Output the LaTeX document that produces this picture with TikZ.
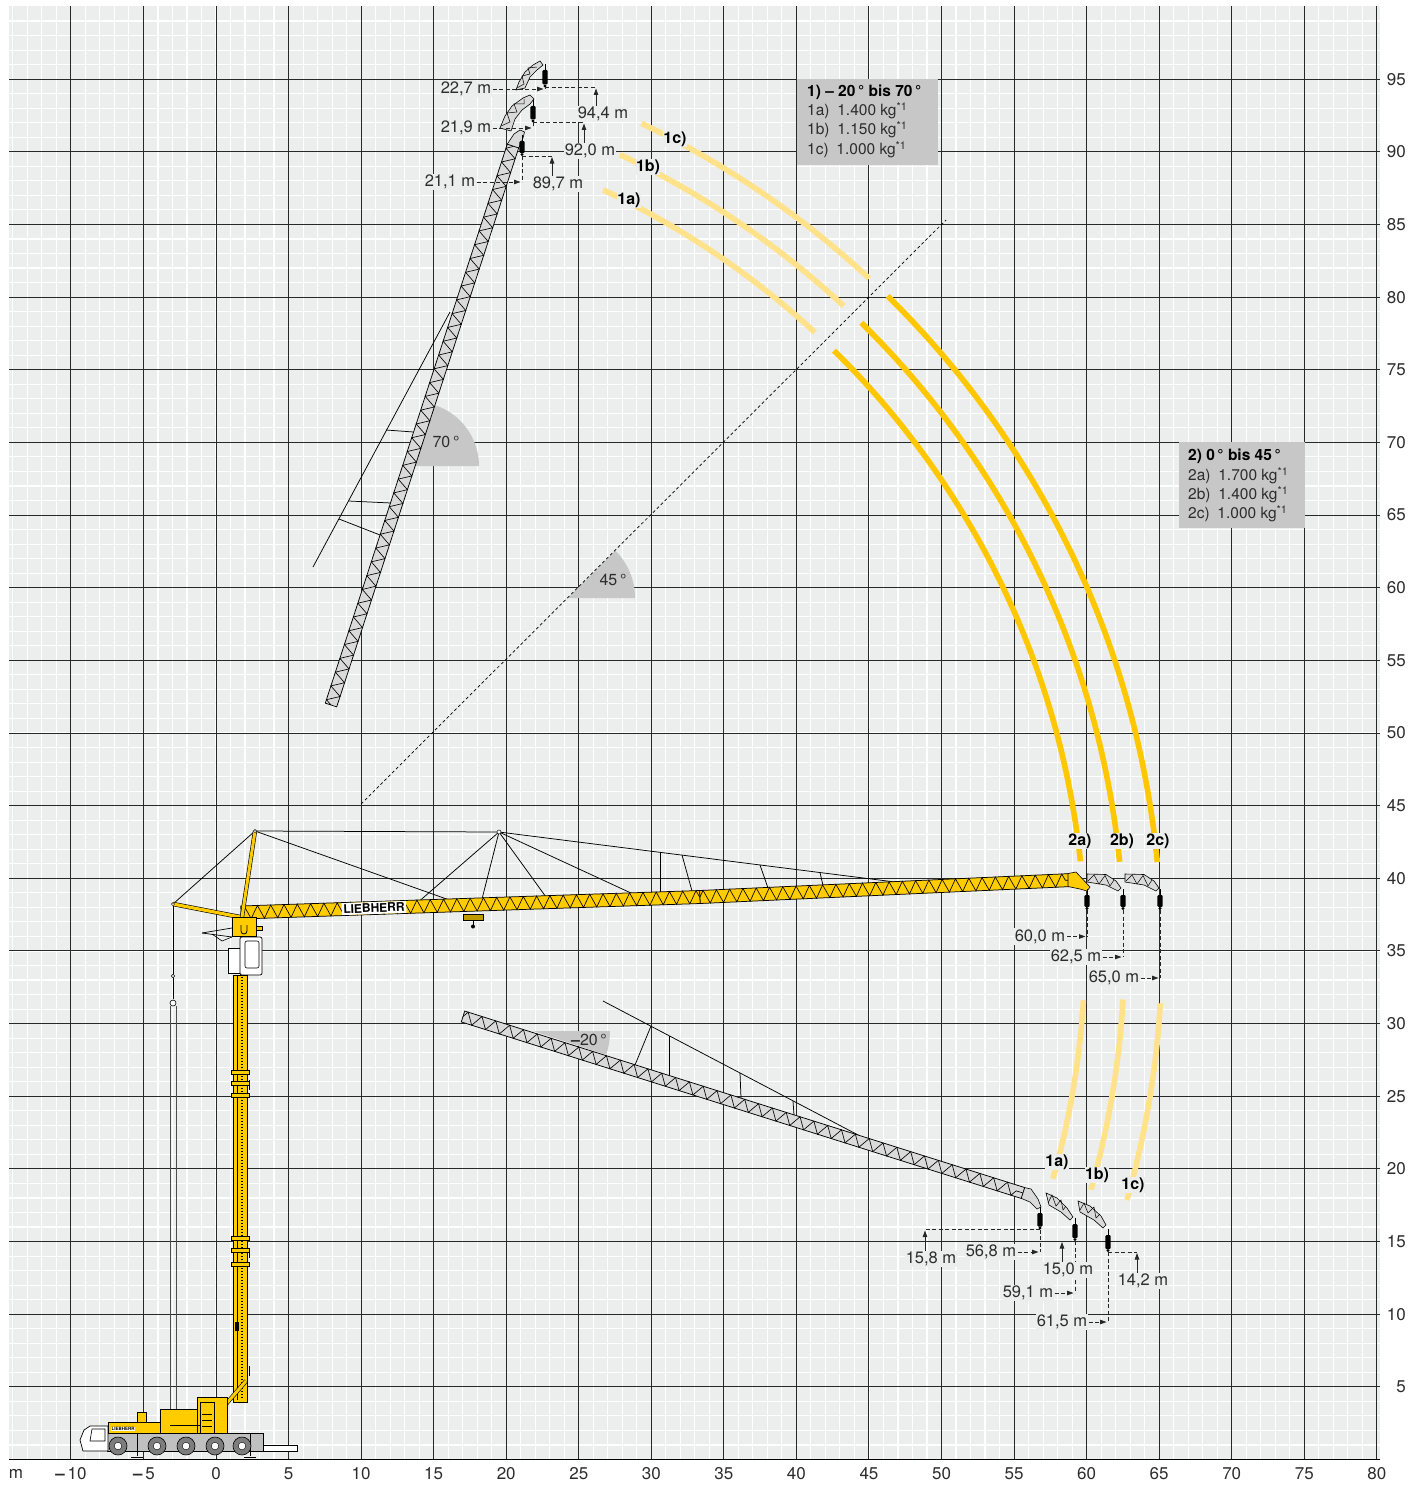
\documentclass[tikz,border=0pt]{standalone}
\usepackage{fontspec}
\setmainfont{TeX Gyre Heros}
\usetikzlibrary{calc,decorations.pathmorphing,arrows.meta}
\definecolor{bgc}{RGB}{236,237,237}
\definecolor{majc}{RGB}{40,40,40}
\definecolor{ysol}{RGB}{255,199,0}
\definecolor{ylight}{RGB}{255,226,138}
\definecolor{jiby}{RGB}{255,204,0}
\definecolor{boomg}{RGB}{218,218,218}
\definecolor{secg}{RGB}{199,199,199}
\definecolor{txt}{RGB}{45,45,45}
\definecolor{wheelg}{RGB}{125,125,125}
\definecolor{chg}{RGB}{192,192,192}
\newcommand\lattice[5]{%
  \filldraw[fill=#4,draw=black,line width=0.75pt]
    ($(#1)!#3!90:(#2)$) -- ($(#2)!#3!-90:(#1)$) -- ($(#2)!#3!90:(#1)$) -- ($(#1)!#3!-90:(#2)$) -- cycle;
  \draw[line width=0.65pt,decorate,decoration={zigzag,segment length=#5,amplitude=#3}] (#1) -- (#2);
}
\newcommand\hk[3]{%
  \draw[line width=0.6pt] (#1,{#2-6}) -- (#1,#2);
  \fill[black,rounded corners=1.2pt] ({#1-2.7},#2) rectangle ({#1+2.7},{#3-3});
  \fill[black] (#1,{#3-1.5}) circle (1.7pt);
}
\begin{document}
\begin{tikzpicture}[x=1pt,y=-1pt,
  dimd/.style={line width=0.8pt,dash pattern=on 4pt off 2.5pt,black!85},
  arr/.style={-{Triangle[length=6.5pt,width=4.5pt]},line width=0.8pt,black!85},
  darr/.style={arr,dash pattern=on 4pt off 2.5pt},
  dlab/.style={font=\fontsize{16.5}{18}\selectfont,text=txt,fill=bgc,inner sep=1.2pt},
  blab/.style={font=\fontsize{16}{18}\selectfont\bfseries,text=black,fill=bgc,inner sep=0.3pt},
  axl/.style={font=\fontsize{17}{19}\selectfont,text=txt,inner sep=1pt},
  leg/.style={font=\fontsize{15.5}{17}\selectfont,text=txt,anchor=west,inner sep=0pt},
  legh/.style={font=\fontsize{15.5}{17}\selectfont\bfseries,text=black,anchor=west,inner sep=0pt},
  angl/.style={font=\fontsize{16}{18}\selectfont,text=txt,inner sep=0pt},
  guy/.style={line width=0.75pt,black},
  yarc/.style={line width=5.6pt,ysol},
  larc/.style={line width=5.6pt,ylight},
  tip/.style={fill=boomg,draw=black,line width=0.6pt},
  ybox/.style={fill=jiby,draw=black,line width=0.6pt}]
\useasboundingbox (0,0) rectangle (1423,1485);
\fill[white] (0,0) rectangle (1423,1485);
% ---------------- grid
\fill[bgc] (9,6) rectangle (1380,1459.5);
\foreach \m in {-14,...,80} \draw[white,line width=1.1pt] ({216+14.51*\m},6) -- ({216+14.51*\m},1459.5);
\foreach \m in {1,...,99} \draw[white,line width=1.1pt] (9,{1459.5-14.53*\m}) -- (1380,{1459.5-14.53*\m});
\foreach \m in {-10,-5,...,80} \draw[majc,line width=0.95pt] ({216+14.51*\m},6) -- ({216+14.51*\m},1459.5);
\foreach \m in {5,10,...,95} \draw[majc,line width=0.95pt] (9,{1459.5-14.53*\m}) -- (1380,{1459.5-14.53*\m});
\draw[black,line width=1.4pt] (9,1459.5) -- (1380,1459.5);
% axis labels
\node[axl] (axm) at (16,1474) {m};
\node[axl] (axm10) at (71,1474) {\textbf{–}\,10};
\node[axl] (axm5) at (144,1474) {\textbf{–}\,5};
\foreach \m in {0,5,...,80} \node[axl] (ax\m) at ({216+14.51*\m},1474) {\m};
\foreach \m in {5,10,...,95} \node[axl,anchor=east] (ay\m) at (1407,{1459.5-14.53*\m}) {\m};
% ---------------- angle sectors
\fill[secg] (415,466) -- +(0:64pt) arc[start angle=0,end angle=72,radius=64pt] -- cycle;
\fill[secg] (568,598) -- +(0:67pt) arc[start angle=0,end angle=45,radius=67pt] -- cycle;
\fill[secg] (533,1031) -- +(0:77pt) arc[start angle=0,end angle=-18,radius=77pt] -- cycle;
\node[angl] (a70) at (446,442) {70\,°};
\node[angl] (a45) at (613,580) {45\,°};
\node[angl] (a20) at (589,1040) {\textbf{–}20\,°};
% 45 degree line
\coordinate (d45a) at (361,804);
\coordinate (d45b) at (946,220);
\draw[line width=0.7pt,dash pattern=on 3pt off 2.5pt] (d45a) -- (d45b);
% ---------------- hook paths
\coordinate (ac) at (246,949);
\foreach \r/\a in {839/6,878/5.7,915.5/5.45}
  \draw[yarc] (ac) ++(\a:\r pt) arc[start angle=\a,end angle=45.5,radius=\r pt];
\foreach \r/\a/\b in {839/47.3/64.8,878/47.1/64.8,915.5/47.1/64.4}
  \draw[larc] (ac) ++(\a:\r pt) arc[start angle=\a,end angle=\b,radius=\r pt];
\foreach \r/\a in {839/-3.5,878.5/-3.3,916/-3.4}
  \draw[larc] (ac) ++(\a:\r pt) arc[start angle=\a,end angle=-15.9,radius=\r pt];
% ---------------- upper luffing jib (70 deg)
\draw[guy] (313,567) -- (450,312);
\draw[guy] (339,519) -- (380,535);
\draw[guy] (348.5,501) -- (391,503);
\draw[guy] (386,430) -- (413.5,432);
\lattice{331,705}{513,146}{6pt}{boomg}{14.5pt}
\filldraw[tip] (507.3,144.1) -- (514,134) -- (520,130) -- (524.5,132) -- (523,138) -- (518.7,147.9) -- cycle;
\filldraw[tip] (500,128) -- (505,116) -- (512,106) -- (523,98) -- (530,95) -- (534,99) -- (530,104) -- (522,110) -- (515,119) -- (511,131) -- cycle;
\draw[line width=0.5pt] (501,126) -- (510,122) -- (507,113) -- (517,112) -- (514,104) -- (524,104) -- (524,99);
\filldraw[tip] (516,90) -- (519,82) -- (525,72) -- (533,65) -- (540,61) -- (543,65) -- (537,70) -- (530,77) -- (525,88) -- cycle;
\draw[line width=0.5pt] (517,88) -- (524,84) -- (522,76) -- (530,74) -- (528,68) -- (537,67);
\hk{522}{141}{156}
\hk{533}{106}{122.5}
\hk{545}{70}{87.5}
\coordinate (h1a) at (522,156);
\coordinate (h1b) at (533,122.5);
\coordinate (h1c) at (545,87.5);
% ---------------- lower luffing jib (-20 deg)
\draw[guy] (603,1001) -- (860,1136);
\draw[guy] (651,1026) -- (635,1065);
\draw[guy] (669,1036) -- (669,1076);
\draw[guy] (740,1073) -- (741,1098);
\draw[guy] (793,1101) -- (794,1115);
\lattice{463,1016.5}{1023,1193}{5.7pt}{boomg}{14.5pt}
\filldraw[tip] (1024.7,1187.6) -- (1031,1189) -- (1038,1199) -- (1041,1207) -- (1037,1209) -- (1030,1202) -- (1021.3,1198.4) -- cycle;
\filldraw[tip] (1046,1193) -- (1057,1198) -- (1067,1208) -- (1073,1217) -- (1070,1220) -- (1061,1212) -- (1049,1205) -- cycle;
\draw[line width=0.5pt] (1048,1203) -- (1052,1195) -- (1056,1206) -- (1061,1200) -- (1063,1210) -- (1066,1206);
\filldraw[tip] (1078,1201) -- (1090,1206) -- (1101,1216) -- (1106,1225) -- (1103,1228) -- (1094,1220) -- (1080,1212) -- cycle;
\draw[line width=0.5pt] (1080,1210) -- (1084,1203) -- (1088,1213) -- (1094,1207) -- (1096,1218) -- (1100,1214);
\hk{1040}{1213}{1229.5}
\hk{1075}{1224}{1241}
\hk{1108}{1235}{1252}
\coordinate (l1a) at (1040,1229.5);
\coordinate (l1b) at (1075,1241);
\coordinate (l1c) at (1108,1252);
% ---------------- tower crane: jib guys
\coordinate (apex) at (255,831);
\coordinate (nd) at (499,832);
\coordinate (cj) at (173,904);
\draw[guy] (cj) -- (apex) -- (nd) -- (895,882);
\draw[guy] (apex) -- (448,899.5);
\draw[guy] (nd) -- (420,900.5);
\draw[guy] (nd) -- (482,899);
\draw[guy] (nd) -- (546,897);
\draw[guy] (nd) -- (632,893.5);
\draw[guy] (660,852.3) -- (660,892.5);
\draw[guy] (682,855) -- (692,891);
\draw[guy] (760,865) -- (768,888);
\draw[guy] (820,872.5) -- (823,885.5);
% counter-jib rope
\draw[line width=0.6pt] (cj) -- (173,999);
\draw[line width=0.5pt,fill=white] (173,976) circle (1.8pt);
\draw[line width=0.6pt,fill=white] (173,1003) circle (3pt);
\draw[line width=0.7pt,black!70] (170,1006) -- (170,1425);
\draw[line width=0.7pt,black!70] (176.5,1006) -- (176.5,1425);
% main jib
\lattice{241,912.5}{700,897}{6.5pt}{jiby}{13.3pt}
\lattice{700,897}{1072,880}{6.5pt}{jiby}{13.3pt}
\filldraw[ybox] (1068,873.5) -- (1076,872) -- (1090,887) -- (1087,891) -- (1080,889) -- (1068,886.5) -- cycle;
\node[fill=white,inner sep=1.6pt,font=\fontsize{12}{12}\selectfont\bfseries,rotate=2] (lieb) at (374,908) {LIEBHERR};
% jib tips 2b, 2c
\filldraw[tip] (1087,874) -- (1106,874.5) -- (1116,881) -- (1121,888) -- (1118,891) -- (1106,885) -- (1087,882) -- cycle;
\draw[line width=0.5pt] (1088,881) -- (1094,875) -- (1099,884) -- (1105,875.5) -- (1110,886) -- (1114,880);
\filldraw[tip] (1125,874) -- (1144,874.5) -- (1154,881) -- (1159,888) -- (1156,891) -- (1144,885) -- (1125,882) -- cycle;
\draw[line width=0.5pt] (1126,881) -- (1132,875) -- (1137,884) -- (1143,875.5) -- (1148,886) -- (1152,880);
\hk{1087}{895}{910}
\hk{1123}{895}{910}
\hk{1160}{895}{910}
\coordinate (h2a) at (1087,910);
\coordinate (h2b) at (1123,910);
\coordinate (h2c) at (1160,910);
% trolley
\filldraw[fill=jiby!75!black,draw=black,line width=0.5pt] (463,914) rectangle (483,920);
\draw[line width=0.6pt] (473,920) -- (473,925);
\fill (473,926.5) circle (2pt);
% A-frame and counter-jib
\draw[line width=0.6pt,double=jiby,double distance=3pt] (242,917) -- (apex);
\draw[line width=0.6pt,double=jiby,double distance=3.2pt] (cj) -- (240,917);
\draw[line width=0.5pt,fill=white] (nd) circle (2pt);
\draw[line width=0.5pt,fill=white] (apex) circle (1.6pt);
\draw[line width=0.5pt,fill=white] (cj) circle (1.6pt);
% slewing head, cab
\filldraw[ybox] (232,917) rectangle (256,936);
\draw[line width=0.8pt] (241,925) -- (241,931) arc[start angle=180,end angle=360,radius=3pt] -- (247,925);
\filldraw[ybox] (256,926) rectangle (262,930);
\draw[line width=0.7pt] (202,933) -- (232,928);
\draw[line width=0.7pt] (202,933) -- (232,937);
\draw[line width=0.6pt] (212,934) -- (222,941) -- (232,937);
\filldraw[fill=white,draw=black,line width=0.6pt] (228,948) rectangle (243,973);
\filldraw[fill=white,draw=black,line width=0.7pt,rounded corners=2pt] (240,937) rectangle (262,975);
\draw[line width=0.6pt,rounded corners=2pt] (245,941) rectangle (259,968);
% mast
\filldraw[ybox,line width=0.7pt] (233,975) rectangle (247,1402);
\draw[line width=0.4pt] (237.5,975) -- (237.5,1400);
\draw[line width=1.8pt,dash pattern=on 1.2pt off 1.8pt] (241.8,977) -- (241.8,1398);
\foreach \y in {1072,1083,1095,1238,1250,1264}
  \filldraw[ybox] (231,{\y-1.8}) rectangle (249,{\y+1.8});
\foreach \y in {1080,1248,1366}
  \draw[line width=1pt] (249,\y) -- (249,{\y+10});
\fill (235,1322) rectangle (238.5,1331);
\draw[line width=0.6pt,double=jiby,double distance=3pt] (226,1404) -- (246,1381);
% ---------------- mobile carrier
\filldraw[fill=chg,draw=black,line width=0.6pt] (107,1433) rectangle (263,1451);
\filldraw[fill=white,draw=black,line width=0.6pt] (263,1445) rectangle (297,1451);
\foreach \x in {137,250} {
  \draw[line width=1pt] (\x,1433) -- (\x,1456);
  \draw[line width=1pt] ({\x-6},1457) -- ({\x+6},1457);}
\filldraw[fill=white,draw=black,line width=0.7pt] (83,1451) -- (80,1440) -- (84,1430) -- (90,1426) -- (108,1426) -- (108,1451) -- cycle;
\draw[line width=0.6pt] (92,1429) -- (105,1429) -- (105,1441) -- (90,1441) -- cycle;
\filldraw[ybox] (108,1422) rectangle (162,1433);
\filldraw[ybox] (137,1412) rectangle (146,1422);
\node[fill=white,inner sep=0.6pt,font=\fontsize{4.5}{5}\selectfont\bfseries] (tlieb) at (123,1429) {LIEBHERR};
\filldraw[ybox] (160,1409) rectangle (200,1433);
\filldraw[ybox] (197,1397) rectangle (227,1433);
\filldraw[ybox] (200,1402) rectangle (214,1433);
\draw[line width=0.5pt] (170,1425) -- (200,1425);
\foreach \y in {1414,1420,1426} \draw[line width=0.5pt] (202,\y) -- (212,\y);
\foreach \x in {118,157,186,215,242} {
  \filldraw[fill=wheelg,draw=black,line width=0.6pt] (\x,1446) circle (9pt);
  \filldraw[fill=white,draw=black,line width=0.4pt] (\x,1446) circle (3.8pt);}
% ---------------- legends
\fill[secg] (797,79) rectangle (938,165);
\node[legh] (lg1h) at (807,92) {1) – 20\,° bis 70\,°};
\node[leg] (lg1a) at (807,111) {1a)\enspace 1.400 kg\textsuperscript{*1}};
\node[leg] (lg1b) at (807,130) {1b)\enspace 1.150 kg\textsuperscript{*1}};
\node[leg] (lg1c) at (807,149.5) {1c)\enspace 1.000 kg\textsuperscript{*1}};
\fill[secg] (1179,442) rectangle (1305,528);
\node[legh] (lg2h) at (1188,456) {2) 0\,° bis 45\,°};
\node[leg] (lg2a) at (1188,476) {2a)\enspace 1.700 kg\textsuperscript{*1}};
\node[leg] (lg2b) at (1188,495) {2b)\enspace 1.400 kg\textsuperscript{*1}};
\node[leg] (lg2c) at (1188,514) {2c)\enspace 1.000 kg\textsuperscript{*1}};
% ---------------- case labels
\node[blab] (u1a) at (629,200) {1a)};
\node[blab] (u1b) at (648,167) {1b)};
\node[blab] (u1c) at (675,139) {1c)};
\node[blab] (b1a) at (1057,1162) {1a)};
\node[blab] (b1b) at (1097,1175) {1b)};
\node[blab] (b1c) at (1133,1185) {1c)};
\node[blab] (z2a) at (1080,841) {2a)};
\node[blab] (z2b) at (1122,841) {2b)};
\node[blab] (z2c) at (1158,841) {2c)};
% ---------------- dimensions: upper
\draw[dimd] (h1c) -- (596,87.5);
\draw[dimd] (h1b) -- (584,122.5);
\draw[dimd] (h1a) -- (552,156);
\node[dlab] (d227) at (466,89) {22,7 m};
\node[dlab] (d219) at (466,128) {21,9 m};
\node[dlab] (d211) at (450,182) {21,1 m};
\node[dlab] (d944) at (603,114) {94,4 m};
\node[dlab] (d920) at (590,151) {92,0 m};
\node[dlab] (d897) at (558,184) {89,7 m};
\draw[dimd] (h1c) -- (h1c |- d227.east);
\draw[dimd] (h1b) -- (h1b |- d219.east);
\draw[dimd] (h1a) -- (h1a |- d211.east);
\draw[darr] (d227.east) -- ([xshift=-1.5pt]d227.east -| h1c);
\draw[darr] (d219.east) -- ([xshift=-1.5pt]d219.east -| h1b);
\draw[darr] (d211.east) -- ([xshift=-1.5pt]d211.east -| h1a);
\draw[arr] ([xshift=-7pt]d944.north) -- ([xshift=-7pt,yshift=-1pt]d944.north |- h1c);
\draw[arr] ([xshift=-6pt]d920.north) -- ([xshift=-6pt,yshift=-1pt]d920.north |- h1b);
\draw[arr] ([xshift=-6pt]d897.north) -- ([xshift=-6pt,yshift=-1pt]d897.north |- h1a);
% ---------------- dimensions: 0 deg
\draw[dimd] (h2a) -- (1087,937);
\draw[dimd] (h2b) -- (1123,957);
\draw[dimd] (h2c) -- (1160,978);
\node[dlab] (d600) at (1040,936.5) {60,0 m};
\node[dlab] (d625) at (1076,957) {62,5 m};
\node[dlab] (d650) at (1114,978) {65,0 m};
\draw[darr] (d600.east) -- ([xshift=-1.5pt]d600.east -| h2a);
\draw[darr] (d625.east) -- ([xshift=-1.5pt]d625.east -| h2b);
\draw[darr] (d650.east) -- ([xshift=-1.5pt]d650.east -| h2c);
% ---------------- dimensions: lower
\draw[dimd] (l1a) -- (925,1229.5);
\draw[dimd] (l1a) -- (1040,1252);
\draw[dimd] (1055,1241) -- (1081,1241);
\draw[dimd] (l1b) -- (1075,1293);
\draw[dimd] (l1c) -- (1137,1252);
\draw[dimd] (l1c) -- (1108,1322);
\node[dlab] (d158) at (931,1259) {15,8 m};
\node[dlab] (d568) at (991,1252) {56,8 m};
\node[dlab] (d150) at (1068,1270) {15,0 m};
\node[dlab] (d591) at (1028,1293) {59,1 m};
\node[dlab] (d142) at (1143,1281) {14,2 m};
\node[dlab] (d615) at (1062,1322) {61,5 m};
\draw[arr] ([xshift=-6pt]d158.north) -- ([xshift=-6pt,yshift=-1pt]d158.north |- l1a);
\draw[arr] ([xshift=-6pt]d150.north) -- ([xshift=-6pt,yshift=-1pt]d150.north |- l1b);
\draw[arr] ([xshift=-6pt]d142.north) -- ([xshift=-6pt,yshift=-1pt]d142.north |- l1c);
\draw[darr] (d568.east) -- ([xshift=-1.5pt]d568.east -| l1a);
\draw[darr] (d591.east) -- ([xshift=-1.5pt]d591.east -| l1b);
\draw[darr] (d615.east) -- ([xshift=-1.5pt]d615.east -| l1c);
\end{tikzpicture}
\end{document}
